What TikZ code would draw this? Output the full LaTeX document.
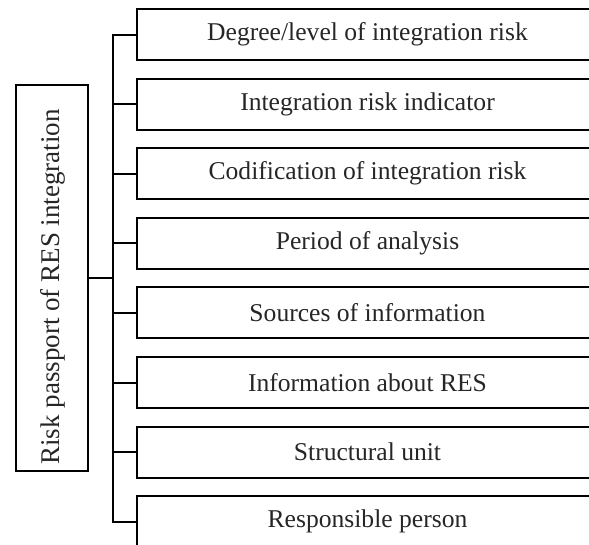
\documentclass[tikz,border=0pt]{standalone}
\usepackage{fontspec}
\setmainfont{Liberation Serif}
\begin{document}
\begin{tikzpicture}[x=1pt,y=-1pt,
  item/.style={draw=black,line width=2pt,rectangle,minimum width=461pt,minimum height=51pt,inner sep=0pt,font=\fontsize{25.6}{30}\selectfont,text=black!85},
  mainbox/.style={draw=black,line width=2pt,rectangle,minimum width=72pt,minimum height=386.5pt,inner sep=0pt},
  maintext/.style={rotate=90,inner sep=0pt,font=\fontsize{27}{30}\selectfont,text=black!85},
  conn/.style={draw=black,line width=2pt}]
\useasboundingbox (0,0) rectangle (589,544);
\clip (0,0) rectangle (589,544);
\foreach \t [count=\i from 0] in {Degree/level of integration risk,Integration risk indicator,Codification of integration risk,Period of analysis,Sources of information,Information about RES,Structural unit,Responsible person}{
  \node[item] (r\i) at (367.5,34.5+69.6*\i) {\t};
  \coordinate (b\i) at (112.5,34.5+69.6*\i);
  \draw[conn] (b\i) -- (r\i.west);
}
\draw[conn,line cap=rect] (b0) -- (b7);
\node[mainbox] (L) at (52,277.75) {};
\node[maintext] (Lt) at (53,287) {Risk passport of RES integration};
\draw[conn] (L.east) -- (L.east -| b0);
\end{tikzpicture}
\end{document}
